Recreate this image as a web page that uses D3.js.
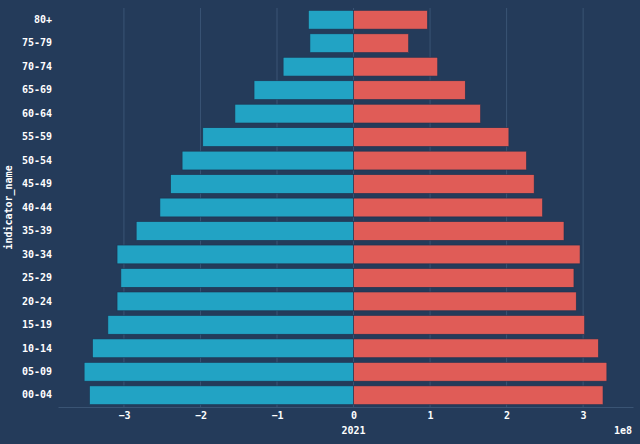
<!DOCTYPE html>
<html><head><meta charset="utf-8">
<script src="https://cdn.jsdelivr.net/npm/d3@7"></script>
<style>
html,body{margin:0;padding:0;background:#243b5a;}
svg{display:block;}
text{font-family:"DejaVu Sans Mono",monospace;fill:#ffffff;font-weight:bold;}
</style></head>
<body><svg id="chart" width="640" height="444"></svg>
<script>
const categories = ["80+","75-79","70-74","65-69","60-64","55-59","50-54","45-49","40-44","35-39","30-34","25-29","20-24","15-19","10-14","05-09","00-04"];
// values in units of 1e8
const male = [-0.59,-0.57,-0.92,-1.30,-1.55,-1.97,-2.24,-2.39,-2.53,-2.84,-3.09,-3.04,-3.09,-3.21,-3.41,-3.52,-3.45];
const female = [0.966,0.72,1.10,1.46,1.66,2.03,2.26,2.36,2.47,2.75,2.96,2.88,2.91,3.02,3.20,3.31,3.26];
const xTicks = [-3,-2,-1,0,1,2,3];
const xLabel = "2021";
const yLabel = "indicator_name";
const offsetLabel = "1e8";

const svg = d3.select("#chart");
const L = 58, R = 633, T = 8, B = 407;
const xmin = d3.min(male), xmax = d3.max(female);
const pad = (xmax - xmin) * 0.05;
const x = d3.scaleLinear().domain([xmin - pad, xmax + pad]).range([L, R]);
const y = d3.scaleBand().domain(categories).range([T, B]).paddingInner(0.2).paddingOuter(0.1);

// grid
svg.append("g").selectAll("line").data(xTicks).join("line")
  .attr("x1", d => x(d)).attr("x2", d => x(d))
  .attr("y1", T).attr("y2", B)
  .attr("stroke", "#3a5474").attr("stroke-width", 1);

// bars
const rows = categories.map((c, i) => ({c, m: male[i], f: female[i]}));
svg.append("g").selectAll("rect").data(rows).join("rect")
  .attr("x", d => x(d.m)).attr("width", d => x(0) - x(d.m))
  .attr("y", d => y(d.c)).attr("height", y.bandwidth())
  .attr("fill", "#22a3c4").attr("stroke", "#1e3350").attr("stroke-width", 0.6);
svg.append("g").selectAll("rect").data(rows).join("rect")
  .attr("x", x(0)).attr("width", d => x(d.f) - x(0))
  .attr("y", d => y(d.c)).attr("height", y.bandwidth())
  .attr("fill", "#e05c57").attr("stroke", "#1e3350").attr("stroke-width", 0.6);

// x axis
const xa = svg.append("g").attr("transform", `translate(0,${B})`)
  .call(d3.axisBottom(x).tickValues(xTicks).tickFormat(d => d < 0 ? "\u2212" + Math.abs(d) : d).tickSize(0).tickPadding(5));
xa.select(".domain").attr("stroke", "#3a5474");
xa.selectAll("text").attr("font-size", 10).attr("fill", "#fff").style("font-family", "DejaVu Sans Mono").attr("font-weight", "bold");

// y axis
const ya = svg.append("g").attr("transform", `translate(${L},0)`)
  .call(d3.axisLeft(y).tickSize(0).tickPadding(6));
ya.select(".domain").remove();
ya.selectAll("text").attr("font-size", 10).attr("fill", "#fff").style("font-family", "DejaVu Sans Mono").attr("font-weight", "bold");

svg.append("text").attr("x", x(0)).attr("y", 434).attr("text-anchor", "middle").attr("font-size", 10).text(xLabel);
svg.append("text").attr("x", 632).attr("y", 434).attr("text-anchor", "end").attr("font-size", 10).text(offsetLabel);
svg.append("text").attr("transform", `translate(12,${(T + B) / 2}) rotate(-90)`).attr("text-anchor", "middle").attr("font-size", 10).text(yLabel);
</script></body></html>
